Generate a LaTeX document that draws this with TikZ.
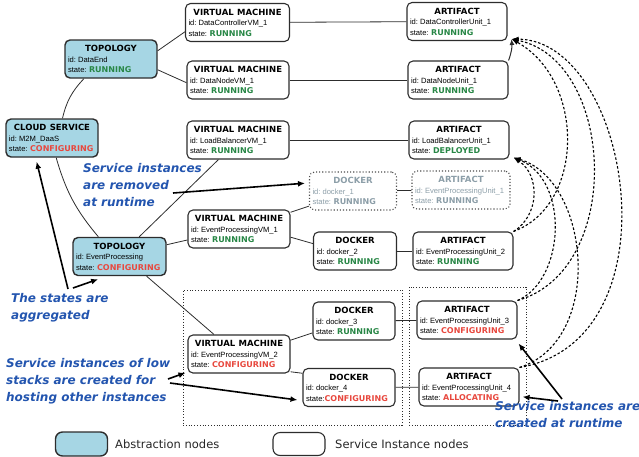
\documentclass[tikz,border=0pt]{standalone}
\usepackage{fontspec}
\setmainfont{DejaVu Sans}
\newfontfamily\idfam{Liberation Sans}
\usetikzlibrary{arrows.meta}
\definecolor{absblue}{RGB}{166,214,228}
\definecolor{runG}{RGB}{40,135,70}
\definecolor{cfgR}{RGB}{232,72,62}
\definecolor{annB}{RGB}{35,85,175}
\definecolor{ghost}{RGB}{140,158,168}
\definecolor{edgec}{RGB}{45,45,45}
\hyphenpenalty=10000
\newcommand\ttlf{\fontsize{8.5}{11}\selectfont\rmfamily\bfseries}
\newcommand\idf{\fontsize{7.6}{10.5}\selectfont\idfam\frenchspacing}
\newcommand\stf{\fontsize{8}{10.5}\selectfont\rmfamily\bfseries}
\newcommand\nc[4]{{\centering\ttlf #1\par}{\raggedright\idf \mbox{id:\kern2pt #2}\par \mbox{state:\kern2.5pt{\stf\color{#3}#4}}\par}}
\tikzset{
 inst/.style={draw=edgec, line width=1.1pt, rounded corners=5pt, fill=white, inner xsep=3pt, inner ysep=1pt, minimum height=38pt},
 abst/.style={inst, fill=absblue, line width=1.4pt},
 ghostnode/.style={draw=edgec!85, dotted, line width=1.1pt, rounded corners=5pt, inner xsep=3pt, inner ysep=1pt, minimum height=38pt, text=ghost},
 grp/.style={draw=edgec, dotted, line width=0.8pt, inner sep=0pt},
 conn/.style={draw=edgec, line width=0.8pt},
 dep/.style={draw=black, line width=1.1pt, dash pattern=on 2.5pt off 2pt, -{Latex[length=7pt,width=5pt]}},
 ann/.style={text=annB, font=\fontsize{12}{17}\selectfont\bfseries\itshape, align=left, inner sep=0pt, anchor=north west},
 annarrow/.style={draw=black, line width=1.6pt, -{Latex[length=7pt,width=6pt]}},
 legt/.style={anchor=west, inner sep=0pt, font=\fontsize{11.5}{14}\selectfont, text=black!85},
}
\begin{document}
\begin{tikzpicture}[x=1pt,y=-1pt]
\useasboundingbox (0,0) rectangle (639,456);
% group boxes
\node[grp, minimum width=219pt, minimum height=135pt] (g1) at (292.5,357.5) {};
\node[grp, minimum width=117pt, minimum height=138pt] (g2) at (467.5,356) {};
% abstraction nodes
\node[abst, text width=86pt] (cloud) at (52,138) {\nc{CLOUD SERVICE}{M2M\_DaaS}{cfgR}{CONFIGURING}};
\node[abst, text width=86pt] (topde) at (111,59) {\nc{TOPOLOGY}{DataEnd}{runG}{RUNNING}};
\node[abst, text width=87pt] (topep) at (119.5,256.5) {\nc{TOPOLOGY}{EventProcessing}{cfgR}{CONFIGURING}};
% virtual machines
\node[inst, text width=98pt] (vmdc) at (237.5,22.5) {\nc{VIRTUAL MACHINE}{DataControllerVM\_1}{runG}{RUNNING}};
\node[inst, text width=96pt] (vmdn) at (238,80) {\nc{VIRTUAL MACHINE}{DataNodeVM\_1}{runG}{RUNNING}};
\node[inst, text width=96pt] (vmlb) at (238,140) {\nc{VIRTUAL MACHINE}{LoadBalancerVM\_1}{runG}{RUNNING}};
\node[inst, text width=96pt] (vmep1) at (239,229) {\nc{VIRTUAL MACHINE}{EventProcessingVM\_1}{runG}{RUNNING}};
\node[inst, text width=96pt] (vmep2) at (239,354) {\nc{VIRTUAL MACHINE}{EventProcessingVM\_2}{cfgR}{CONFIGURING}};
% dockers
\node[ghostnode, text width=81pt] (dk1) at (353,191) {\nc{DOCKER}{docker\_1}{ghost}{RUNNING}};
\node[inst, text width=77pt] (dk2) at (355,251) {\nc{DOCKER}{docker\_2}{runG}{RUNNING}};
\node[inst, text width=76pt] (dk3) at (354,321) {\nc{DOCKER}{docker\_3}{runG}{RUNNING}};
\node[inst, text width=86pt] (dk4) at (349,387.5) {{\centering\ttlf DOCKER\par}{\raggedright\idf \mbox{id:\kern2pt docker\_4}\par \mbox{state:{\stf\color{cfgR}CONFIGURING}}\par}};
% artifacts
\node[inst, text width=94pt] (adc) at (457,21.5) {\nc{ARTIFACT}{DataControllerUnit\_1}{runG}{RUNNING}};
\node[inst, text width=94pt] (adn) at (458,80) {\nc{ARTIFACT}{DataNodeUnit\_1}{runG}{RUNNING}};
\node[inst, text width=94pt] (alb) at (459,140) {\nc{ARTIFACT}{LoadBalancerUnit\_1}{runG}{DEPLOYED}};
\node[ghostnode, text width=92pt] (aep1) at (461,190) {\nc{ARTIFACT}{EventProcessingUnit\_1}{ghost}{RUNNING}};
\node[inst, text width=94pt] (aep2) at (463,251) {\nc{ARTIFACT}{EventProcessingUnit\_2}{runG}{RUNNING}};
\node[inst, text width=94pt] (aep3) at (467,320) {\nc{ARTIFACT}{EventProcessingUnit\_3}{cfgR}{CONFIGURING}};
\node[inst, text width=94pt] (aep4) at (469,387) {\nc{ARTIFACT}{EventProcessingUnit\_4}{cfgR}{ALLOCATING}};
% connectors
\draw[conn] (cloud.62) to[bend left=15] (topde.216);
\draw[conn] (cloud.282) to[bend right=12] (topep.137);
\draw[conn] (topde.10) -- (vmdc.190);
\draw[conn] (topde.347) -- (vmdn.183);
\draw[conn] (topep.45) -- (vmlb.225);
\draw[conn] (topep.14) -- (vmep1.192);
\draw[conn] (topep.324) -- (vmep2.142);
\draw[conn] (vmdc) -- (adc);
\draw[conn] (vmdn) -- (adn);
\draw[conn] (vmlb) -- (alb);
\draw[conn] (vmep1.18) -- (dk1.199);
\draw[conn] (vmep1.351) -- (dk2.170);
\draw[conn] (dk1) -- (aep1);
\draw[conn] (dk2) -- (aep2);
\draw[conn] (vmep2.15) -- (dk3.196);
\draw[conn] (vmep2.341) -- (dk4.163);
\draw[conn] (dk3) -- (aep3);
\draw[conn] (dk4) -- (aep4);
\draw[conn, line width=1pt, -{Latex[length=6pt,width=5pt]}] (adn.north east) to[bend right=12] ([shift={(4pt,2pt)}]adc.south east);
% dependency arcs
\draw[dep] (aep2.north east) .. controls (585,205) and (585,80) .. ([shift={(4pt,2pt)}]adc.south east);
\draw[dep] (aep3.north east) .. controls (625,270) and (615,60) .. ([shift={(4pt,2pt)}]adc.south east);
\draw[dep] (aep4.north east) .. controls (680,340) and (630,40) .. ([shift={(4pt,2pt)}]adc.south east);
\draw[dep] (aep2.north east) .. controls (540,215) and (540,175) .. ([shift={(4pt,2pt)}]alb.south east);
\draw[dep] (aep3.north east) .. controls (565,280) and (570,180) .. ([shift={(4pt,2pt)}]alb.south east);
\draw[dep] (aep4.north east) .. controls (605,340) and (590,180) .. ([shift={(4pt,2pt)}]alb.south east);
% annotations
\node[ann] (rem) at (83,163) {Service instances\\are removed\\at runtime};
\node[ann] (agg) at (11,293) {The states are\\aggregated};
\node[ann] (low) at (6,358) {Service instances of low\\stacks are created for\\hosting other instances};
\node[ann] (cre) at (495,401) {Service instances are\\created at runtime};
\coordinate (remA) at (173,193);
\coordinate (aggA) at (68,289);
\coordinate (aggB) at (73,288);
\coordinate (lowA) at (168,379);
\coordinate (lowB) at (170,383);
\coordinate (creA) at (562,399);
\coordinate (creB) at (558,401);
\draw[annarrow] (remA) -- ([xshift=-4pt]dk1.170);
\draw[annarrow] (aggA) -- ([yshift=-4pt]cloud.232);
\draw[annarrow] (aggB) -- ([shift={(-1pt,-3pt)}]topep.224);
\draw[annarrow] (lowA) -- ([xshift=-2pt]vmep2.200);
\draw[annarrow] (lowB) -- ([xshift=-5pt]dk4.195);
\draw[annarrow] (creA) -- ([shift={(1pt,-4pt)}]aep3.south east);
\draw[annarrow] (creB) -- ([xshift=3pt]aep4.349);
% legend
\node[abst, minimum width=52pt, minimum height=24pt, rounded corners=7pt, inner sep=0pt] (legA) at (81.5,444) {};
\node[legt] (legAt) at (115,444) {Abstraction nodes};
\node[inst, minimum width=52pt, minimum height=23pt, rounded corners=7pt, inner sep=0pt] (legB) at (299,444) {};
\node[legt] (legBt) at (335,444) {Service Instance nodes};
\end{tikzpicture}
\end{document}
